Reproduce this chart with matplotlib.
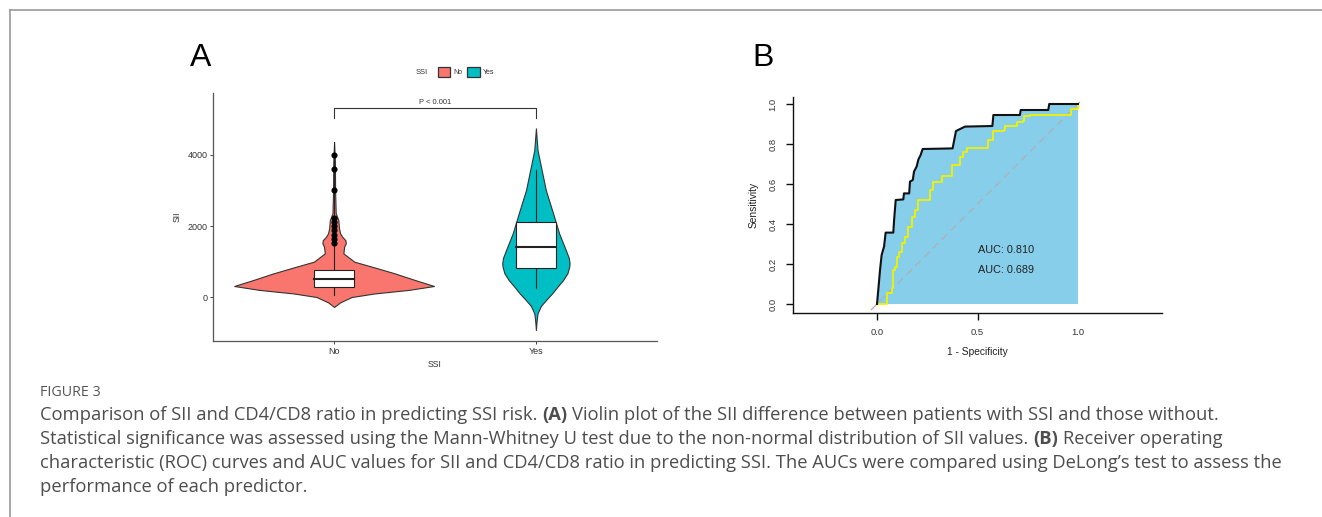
import numpy as np
import matplotlib
matplotlib.use("Agg")
import matplotlib.pyplot as plt
from matplotlib.patches import Rectangle, Patch

W, H = 1322, 517

# ---------------- panel A data ----------------
groups = ["No", "Yes"]
group_colors = ["#F8766D", "#00BFC4"]

# violin outline: value, half width (x units)
no_vals = [-280, -150, 0, 100, 200, 310, 480, 667, 850, 995, 1230, 1420, 1512, 1600, 1700, 1793, 1950, 2169, 2300, 2357, 3000, 3800, 4370]
no_hw = [0.0, 0.03, 0.087, 0.20, 0.37, 0.495, 0.40, 0.30, 0.19, 0.10, 0.046, 0.050, 0.058, 0.056, 0.040, 0.030, 0.024, 0.021, 0.012, 0.008, 0.005, 0.004, 0.0]
yes_vals = [-930, -700, -460, -250, -85, 100, 291, 480, 667, 850, 948, 1100, 1324, 1550, 1793, 2357, 3014, 3671, 4140, 4750]
yes_hw = [0.0, 0.003, 0.008, 0.025, 0.05, 0.08, 0.107, 0.135, 0.156, 0.165, 0.167, 0.163, 0.148, 0.132, 0.115, 0.085, 0.049, 0.025, 0.008, 0.0]

# box stats: q1, median, q3, lower whisker, upper whisker
box_q1 = [291, 808]
box_med = [498, 1400]
box_q3 = [760, 2103]
box_lo = [50, 250]
box_hi = [1450, 3580]
no_outliers = [1520, 1640, 1760, 1880, 2000, 2120, 2220, 3000, 3600, 4000]

p_text = "P < 0.001"

# ---------------- panel B data ----------------
roc1_fpr = [0, 0.007, 0.015, 0.023, 0.035, 0.043, 0.081, 0.085, 0.093, 0.131, 0.134, 0.160, 0.164, 0.178, 0.184, 0.197, 0.206, 0.217, 0.227, 0.376, 0.393, 0.438, 0.574, 0.579, 0.711, 0.715, 0.852, 0.857, 1.0]
roc1_tpr = [0, 0.078, 0.17, 0.245, 0.287, 0.357, 0.357, 0.42, 0.52, 0.523, 0.553, 0.553, 0.612, 0.62, 0.662, 0.687, 0.723, 0.745, 0.775, 0.778, 0.865, 0.887, 0.89, 0.945, 0.945, 0.97, 0.97, 1.0, 1.0]
roc2_fpr = [0, 0.048, 0.051, 0.073, 0.078, 0.09, 0.098, 0.111, 0.123, 0.139, 0.156, 0.172, 0.189, 0.206, 0.26, 0.264, 0.28, 0.322, 0.325, 0.368, 0.371, 0.413, 0.43, 0.45, 0.546, 0.554, 0.579, 0.63, 0.637, 0.687, 0.695, 0.725, 0.73, 0.761, 0.96, 0.965, 1.0, 1.0]
roc2_tpr = [0, 0, 0.053, 0.078, 0.17, 0.187, 0.237, 0.262, 0.303, 0.337, 0.387, 0.437, 0.47, 0.52, 0.52, 0.57, 0.612, 0.612, 0.64, 0.64, 0.695, 0.737, 0.762, 0.778, 0.778, 0.82, 0.867, 0.87, 0.89, 0.89, 0.912, 0.917, 0.94, 0.945, 0.945, 0.975, 0.987, 1.0]
auc_labels = ["AUC: 0.810", "AUC: 0.689"]

caption_head = "FIGURE 3"
caption_lines = [
    [("Comparison of SII and CD4/CD8 ratio in predicting SSI risk.", "normal"), ("(A)", "bold"),
     ("Violin plot of the SII difference between patients with SSI and those without.", "normal")],
    [("Statistical significance was assessed using the Mann-Whitney U test due to the non-normal distribution of SII values.", "normal"),
     ("(B)", "bold"), ("Receiver operating", "normal")],
    [("characteristic (ROC) curves and AUC values for SII and CD4/CD8 ratio in predicting SSI. The AUCs were compared using DeLong\u2019s test to assess the", "normal")],
    [("performance of each predictor.", "normal")],
]

plt.rcParams['font.family'] = ['Liberation Sans', 'DejaVu Sans']

fig = plt.figure(figsize=(W / 100, H / 100), dpi=100)


def px_axes(l, t, r, b):
    return fig.add_axes([l / W, 1 - b / H, (r - l) / W, (b - t) / H])


# frame lines of the figure page
frame = fig.add_axes([0, 0, 1, 1], zorder=-5)
frame.set_xlim(0, W)
frame.set_ylim(H, 0)
frame.axis("off")
frame.plot([10, W], [10, 10], color="#9a9a9a", lw=1.2)
frame.plot([10, 10], [10, H], color="#9a9a9a", lw=1.2)

# ---------------- panel A ----------------
axA = px_axes(213, 93, 657, 341)
axA.set_xlim(0.4, 2.6)
axA.set_ylim(-1239, 5746)
for i, (vals, hw) in enumerate([(no_vals, no_hw), (yes_vals, yes_hw)]):
    c = i + 1
    v = np.array(vals)
    h = np.array(hw)
    axA.fill_betweenx(v, c - h, c + h, facecolor=group_colors[i], edgecolor="#333333", lw=0.8, zorder=2)
    axA.plot([c, c], [box_lo[i], box_q1[i]], color="#222222", lw=0.8, zorder=3)
    axA.plot([c, c], [box_q3[i], box_hi[i]], color="#222222", lw=0.8, zorder=3)
    axA.add_patch(Rectangle((c - 0.1, box_q1[i]), 0.2, box_q3[i] - box_q1[i],
                            facecolor="white", edgecolor="#222222", lw=0.8, zorder=4))
    axA.plot([c - 0.1, c + 0.1], [box_med[i], box_med[i]], color="#222222", lw=1.5, zorder=5)
axA.plot([1, 1], [2220, 4370], color="#222222", lw=0.7, zorder=3)
axA.plot([1] * len(no_outliers), no_outliers, "o", color="black", ms=3.4, zorder=6)

axA.plot([1, 1, 2, 2], [5033, 5314, 5314, 5033], color="#333333", lw=0.8)
axA.text(1.5, 5380, p_text, ha="center", va="bottom", fontsize=5.4, color="#333333")

axA.set_xticks([1, 2])
axA.set_xticklabels(groups, fontsize=6.5, color="#333333")
axA.set_yticks([0, 2000, 4000])
axA.set_yticklabels(["0", "2000", "4000"], fontsize=6.5, color="#333333")
axA.tick_params(length=2.5, width=0.7, color="#444444", pad=1.5)
for s in ["top", "right"]:
    axA.spines[s].set_visible(False)
for s in ["left", "bottom"]:
    axA.spines[s].set_color("#555555")
    axA.spines[s].set_linewidth(0.9)
axA.set_xlabel("SSI", fontsize=6.3, color="#333333", labelpad=3)
axA.set_ylabel("SII", fontsize=6.3, color="#333333", labelpad=4)

fig.text(190 / W, 1 - 58 / H, "A", fontsize=23, ha="left", va="center")

# legend
fig.text(422 / W, 1 - 72 / H, "SSI", fontsize=5.4, color="#333333", ha="center", va="center")
handles = [Patch(facecolor=group_colors[k], edgecolor="#333333", lw=0.9, label=groups[k]) for k in range(2)]
fig.legend(handles=handles, loc="center", bbox_to_anchor=(466 / W, 1 - 72 / H), ncol=2, frameon=False,
           fontsize=5.0, handlelength=1.8, handleheight=1.9, handletextpad=0.4, columnspacing=0.7,
           borderpad=0, labelcolor="#333333")

# ---------------- panel B ----------------
axB = px_axes(793, 97, 1162, 313)
axB.set_xlim(-0.418, 1.418)
axB.set_ylim(-0.045, 1.035)
poly_x = list(roc1_fpr) + [1.0, 0.0]
poly_y = list(roc1_tpr) + [0.0, 0.0]
axB.fill(poly_x, poly_y, color="#87CEEB", lw=0, zorder=1)
axB.plot([-0.03, 1.02], [-0.03, 1.02], color="#b0b0b0", lw=0.9, ls=(0, (6, 4)), zorder=2)
axB.step(roc2_fpr, roc2_tpr, where="post", color="#f2f200", lw=1.3, zorder=3)
axB.plot(roc1_fpr, roc1_tpr, color="#111111", lw=1.5, zorder=4)
axB.text(0.642, 0.27, auc_labels[0], ha="center", va="center", fontsize=7.8, color="#222222")
axB.text(0.642, 0.17, auc_labels[1], ha="center", va="center", fontsize=7.8, color="#222222")

axB.set_xticks([0.0, 0.5, 1.0])
axB.set_xticklabels(["0.0", "0.5", "1.0"], fontsize=6.8, color="#333333")
axB.xaxis.get_major_ticks()[2].tick1line.set_visible(False)
axB.set_yticks([0.0, 0.2, 0.4, 0.6, 0.8, 1.0])
axB.set_yticklabels(["0.0", "0.2", "0.4", "0.6", "0.8", "1.0"], fontsize=6.8, color="#333333",
                    rotation=90, va="center")
axB.tick_params(length=5, width=1.0, color="#111111", pad=6)
for s in ["top", "right"]:
    axB.spines[s].set_visible(False)
for s in ["left", "bottom"]:
    axB.spines[s].set_color("#111111")
    axB.spines[s].set_linewidth(1.0)
axB.set_xlabel("1 - Specificity", fontsize=7.4, color="#222222", labelpad=7)
axB.set_ylabel("Sensitivity", fontsize=7.4, color="#222222", labelpad=7)

fig.text(752 / W, 1 - 58 / H, "B", fontsize=23, ha="left", va="center")

# ---------------- caption ----------------
cap_font = ['Open Sans', 'DejaVu Sans']
fig.text(40 / W, 1 - 392 / H, caption_head, fontsize=10.3, color="#555555", family=cap_font,
         ha="left", va="center")

renderer = fig.canvas.get_renderer()


def text_w(s, weight, size):
    t = fig.text(0, 0, s, fontsize=size, fontweight=weight, family=cap_font)
    w = t.get_window_extent(renderer).width
    t.remove()
    return w


cap_size = 13.2
space_w = text_w("a a", "normal", cap_size) - text_w("aa", "normal", cap_size)
line_y = [415, 439, 463, 487]
for yy, pieces in zip(line_y, caption_lines):
    x = 40.0
    for s, wt in pieces:
        fig.text(x / W, 1 - yy / H, s, fontsize=cap_size, fontweight=wt, family=cap_font,
                 color="#4d4d4d", ha="left", va="center")
        x += text_w(s, wt, cap_size) + space_w

fig.savefig("out.png", dpi=100)
